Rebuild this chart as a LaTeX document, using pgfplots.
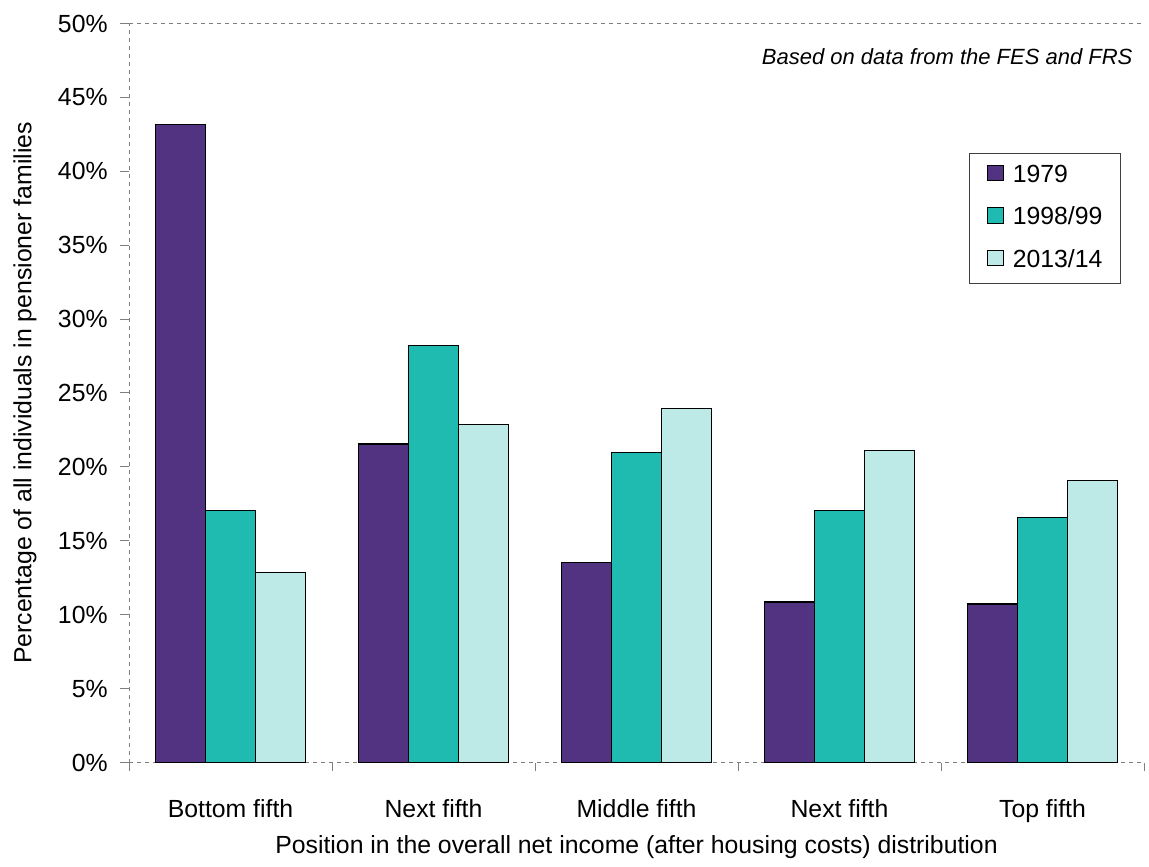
\documentclass[border=0pt]{standalone}
\usepackage{fontspec}
\setmainfont{Liberation Sans}
\usepackage{pgfplots}
\pgfplotsset{compat=1.18}

\definecolor{c79}{HTML}{523382}
\definecolor{c98}{HTML}{20BBB0}
\definecolor{c13}{HTML}{BDEAE6}
\definecolor{axisgray}{HTML}{7F7F7F}

\newcommand{\chartfont}{\fontsize{12.4}{15}\selectfont}

\begin{document}
\begin{tikzpicture}
\useasboundingbox (0,0) rectangle (574.5pt,433pt);
\begin{axis}[
  at={(64.5pt,51.75pt)}, anchor=south west,
  scale only axis,
  width=507.5pt, height=369.5pt,
  xmin=-0.5, xmax=4.5,
  ymin=0, ymax=50,
  ybar=0pt, bar width=25pt,
  axis x line*=bottom, axis y line*=left,
  axis line style={-, axisgray, line width=0.5pt, dash pattern=on 2pt off 2pt},
  xtick={0,1,2,3,4},
  xticklabels={Bottom fifth, Next fifth, Middle fifth, Next fifth, Top fifth},
  major x tick style={draw=none},
  minor xtick={-0.5,0.5,1.5,2.5,3.5,4.5},
  minor x tick style={axisgray, line width=0.5pt, solid},
  minor tick length=4pt,
  ytick={0,5,...,50},
  major y tick style={axisgray, line width=0.5pt, solid},
  major tick length=4.5pt,
  tick align=outside,
  yticklabel={\pgfmathprintnumber[assume math mode=true]{\tick}\%},
  yticklabel style={font=\chartfont, anchor=east, inner sep=0pt, xshift=-6pt},
  xticklabel style={font=\chartfont, anchor=base, inner sep=0pt, yshift=-22.75pt},
  extra y ticks={50},
  extra y tick labels={},
  extra y tick style={ymajorgrids=true, major tick length=0pt,
    major grid style={axisgray, line width=0.5pt, dash pattern=on 2pt off 2pt}},
  xlabel={Position in the overall net income (after housing costs) distribution},
  xlabel style={font=\chartfont, at={(axis description cs:0.5,-0.1225)}, anchor=base, inner sep=0pt},
  ylabel={Percentage of all individuals in pensioner families},
  ylabel style={font=\chartfont, at={(axis description cs:-0.1025,0.5)}, anchor=center, inner sep=0pt},
  legend style={
    at={(0.9773,0.8248)}, anchor=north east,
    draw=black!75, line width=0.5pt,
    font=\chartfont,
    inner xsep=9pt, inner ysep=5.5pt,
    row sep=9.75pt,
    nodes={inner sep=0pt, text height=9pt, text depth=2.5pt},
    /tikz/every odd column/.append style={column sep=4.5pt},
  },
  legend cell align=left,
  legend image code/.code={\draw[#1, draw=black, line width=0.5pt, solid] (0pt,-2.5pt) rectangle (7.8pt,5.3pt);},
  every axis plot/.append style={draw=black, line width=0.75pt},
]
\addplot[fill=c79] coordinates {(0,43.15) (1,21.55) (2,13.52) (3,10.86) (4,10.72)};
\addplot[fill=c98] coordinates {(0,17.06) (1,28.20) (2,20.99) (3,17.04) (4,16.56)};
\addplot[fill=c13] coordinates {(0,12.84) (1,22.86) (2,23.96) (3,21.10) (4,19.07)};
\legend{1979, 1998/99, 2013/14}
\node[anchor=east, inner sep=0pt, font=\fontsize{11}{13}\selectfont\itshape]
  at (axis description cs:0.989,0.9547) {Based on data from the FES and FRS};
\end{axis}
\end{tikzpicture}
\end{document}
